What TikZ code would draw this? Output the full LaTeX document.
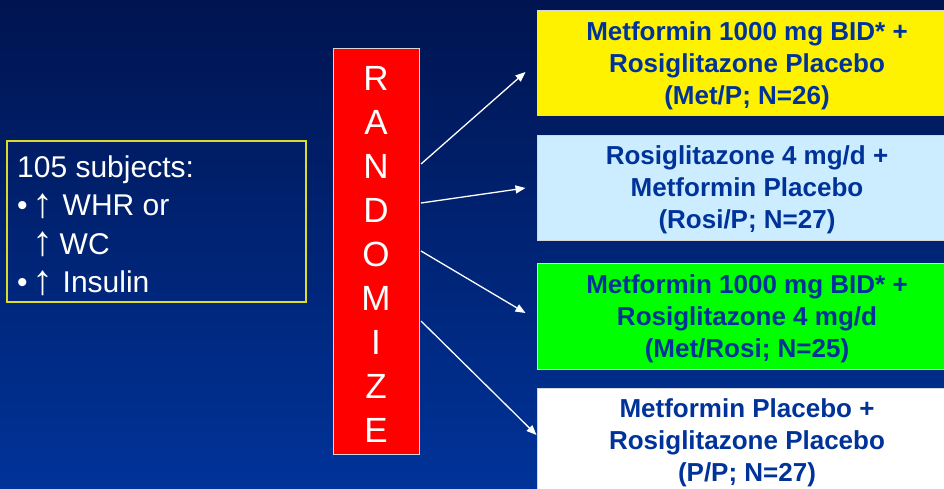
\documentclass[tikz,border=0pt]{standalone}
\usepackage{fontspec}
\usepackage{graphicx}
\setmainfont{Liberation Sans}
\usetikzlibrary{arrows.meta}
\definecolor{bgtop}{RGB}{0,20,80}
\definecolor{bgbot}{RGB}{0,51,153}
\definecolor{txtblue}{RGB}{0,51,153}
\definecolor{lblue}{RGB}{204,236,255}
\definecolor{boxline}{RGB}{215,215,215}
\definecolor{subjline}{RGB}{220,220,40}
\newcommand{\uparr}{\hspace{5pt}\raisebox{-1.5pt}{\scalebox{1.4}[1.4]{↑}}\hspace{9pt}}
\tikzset{
  armbox/.style={draw=boxline, line width=1pt, minimum width=420pt, minimum height=105pt,
    inner sep=0pt, align=center, text=txtblue, text depth=0pt,
    font=\bfseries\fontsize{26}{32}\selectfont},
  arr/.style={draw=white, line width=1.3pt, -{Triangle[length=10pt,width=8pt]}},
}
\begin{document}
\begin{tikzpicture}[x=1pt,y=-1pt]
\useasboundingbox (0,0) rectangle (944,488);
\clip (0,0) rectangle (944,488);
\shade[top color=bgtop,bottom color=bgbot] (0,0) rectangle (944,488);

% left box
\node[draw=subjline, line width=1.2pt, minimum width=299pt, minimum height=161pt, inner sep=0pt] (subj) at (156.5,221.5) {};
\node[anchor=north west, align=left, inner sep=0pt, text=white, font=\fontsize{30}{38.5}\selectfont] (subjtext) at (17,155.5)
  {105 subjects:\\ •\uparr WHR or\\ \hphantom{•}\uparr\hspace{-3pt}WC\\ •\uparr Insulin};

% randomize box
\node[draw=boxline, fill=red, line width=1pt, minimum width=86pt, minimum height=406pt, inner sep=0pt] (rand) at (376,251) {};
\node[align=center, inner sep=0pt, text=white, font=\fontsize{35}{43.9}\selectfont] (randtext) at (376,254.5)
  {R\\A\\N\\D\\O\\M\\I\\Z\\E};

% arm boxes
\node[armbox, fill=yellow] (arm1) at (747,63.4)
  {Metformin 1000 mg BID* +\\Rosiglitazone Placebo\\(Met/P; N=26)};
\node[armbox, fill=lblue] (arm2) at (747,187.5)
  {Rosiglitazone 4 mg/d +\\Metformin Placebo\\(Rosi/P; N=27)};
\node[armbox, fill=green, minimum height=106pt] (arm3) at (747,316)
  {Metformin 1000 mg BID* +\\Rosiglitazone 4 mg/d\\(Met/Rosi; N=25)};
\node[armbox, fill=white] (arm4) at (747,440.5)
  {Metformin Placebo +\\Rosiglitazone Placebo\\(P/P; N=27)};

% arrows
\draw[arr] ([xshift=1.5pt,yshift=87pt]rand.east) -- ([xshift=-11pt,yshift=-8.6pt]arm1.west);
\draw[arr] ([xshift=1.5pt,yshift=48pt]rand.east) -- ([xshift=-11pt,yshift=-0.5pt]arm2.west);
\draw[arr] ([xshift=1.5pt,yshift=0pt]rand.east) -- ([xshift=-11pt,yshift=3pt]arm3.west);
\draw[arr] ([xshift=1.5pt,yshift=-70pt]rand.east) -- ([xshift=0pt,yshift=5.5pt]arm4.west);
\end{tikzpicture}
\end{document}
